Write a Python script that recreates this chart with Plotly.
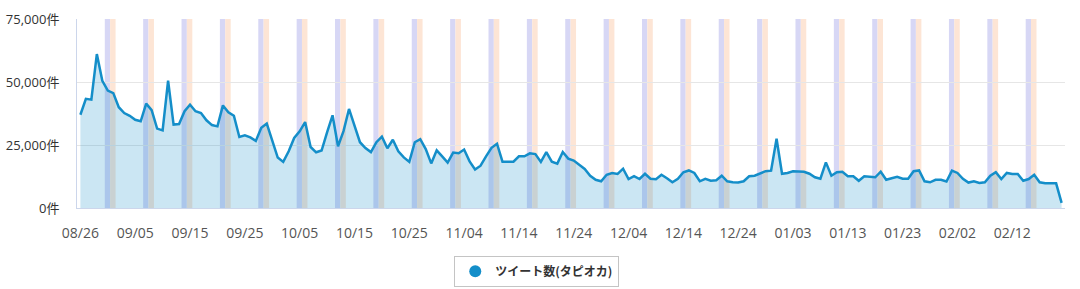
import pandas as pd
import plotly.graph_objects as go

start_date = "2019-08-26"
series_name = "ツイート数(タピオカ)"
tweets = [
    37000, 43300, 43000, 61100, 50500, 46600, 45600, 40000, 37700, 36600,
    35000, 34400, 41400, 38800, 31500, 30800, 50500, 33100, 33300, 38400,
    41000, 38400, 37700, 34800, 32900, 32400, 40700, 38000, 36600, 28200,
    28800, 28000, 26600, 31800, 33500, 27100, 20000, 18300, 22500, 27800,
    30400, 34100, 24200, 22100, 22800, 30000, 36800, 24500, 30500, 39300,
    33100, 26100, 23800, 22200, 26100, 28300, 23700, 27100, 22500, 20100,
    18300, 26100, 27300, 23400, 17700, 22900, 20500, 18000, 22000, 21700,
    23200, 18500, 15300, 16800, 20500, 23900, 25500, 18400, 18400, 18400,
    20500, 20500, 21700, 21400, 18300, 22200, 18400, 17600, 22200, 19600,
    18800, 17200, 15500, 12800, 11200, 10600, 13200, 13900, 13500, 15600,
    11500, 12600, 11500, 13600, 11600, 11400, 13200, 11800, 10200, 11600,
    14200, 14900, 13900, 10600, 11600, 10800, 11000, 12800, 10600, 10200,
    10100, 10600, 12600, 12800, 13600, 14600, 14800, 27500, 13600, 13900,
    14600, 14600, 14400, 13600, 12200, 11600, 18100, 12800, 14200, 14400,
    12600, 12600, 10800, 12600, 12300, 12200, 14400, 11200, 11800, 12400,
    11600, 11600, 14600, 14900, 10600, 10200, 11200, 11200, 10500, 14800,
    13900, 11600, 10100, 10600, 9900, 10200, 12800, 14200, 11500, 13900,
    13500, 13500, 10800, 11500, 13200, 10200, 9800, 9800, 9800, 2000,
]
y_ticks = [0, 25000, 50000, 75000]
y_ticklabels = ["0件", "25,000件", "50,000件", "75,000件"]

dates = pd.date_range(start_date, periods=len(tweets), freq="D")

LINE = "rgb(20,142,201)"
FILL = "rgba(20,142,201,0.22)"
SAT = "#d7d7f5"
SUN = "#fde5d5"
day = pd.Timedelta(days=1)

fig = go.Figure()

shapes = []
for d in dates:
    if d.weekday() == 5:
        shapes.append(dict(type="rect", xref="x", yref="paper",
                           x0=d - 0.55 * day, x1=d + 0.42 * day, y0=0, y1=1,
                           fillcolor=SAT, line_width=0, layer="below"))
    elif d.weekday() == 6:
        shapes.append(dict(type="rect", xref="x", yref="paper",
                           x0=d - 0.58 * day, x1=d + 0.42 * day, y0=0, y1=1,
                           fillcolor=SUN, line_width=0, layer="below"))

fig.add_trace(go.Scatter(
    x=dates, y=tweets, mode="lines", fill="tozeroy", fillcolor=FILL,
    line=dict(color=LINE, width=2.5), showlegend=False, name=series_name))
fig.add_trace(go.Scatter(
    x=[None], y=[None], mode="markers", name=series_name,
    marker=dict(color=LINE, size=12)))

fig.update_layout(
    width=1080, height=289,
    margin=dict(l=77, r=15, t=19, b=81),
    paper_bgcolor="white", plot_bgcolor="white",
    font=dict(family="Open Sans, Noto Sans CJK JP", size=14, color="#333"),
    shapes=shapes,
    showlegend=True,
    legend=dict(orientation="h", xref="container", yref="container",
                x=0.497, xanchor="center", y=0.115, yanchor="top",
                bordercolor="#c4c4c4", borderwidth=1,
                font=dict(family="Noto Sans CJK JP", size=12, color="#333", weight="bold"),
                itemwidth=30),
    xaxis=dict(
        type="date", automargin=False,
        range=[dates[0] - 0.62 * day, dates[-1] + 0.62 * day],
        tick0=start_date, dtick=10 * 86400000, tickformat="%m/%d",
        showgrid=False, showline=True, linecolor="#ccd6eb", linewidth=1,
        ticks="", ticklabelstandoff=12,
        tickfont=dict(color="#555", size=14),
    ),
    yaxis=dict(
        range=[0, 75000], tickmode="array", tickvals=y_ticks, ticktext=y_ticklabels,
        automargin=False,
        showgrid=True, gridcolor="#e6e6e6", gridwidth=1,
        zeroline=False, showline=True, linecolor="#ccd6eb", linewidth=1,
        ticks="", ticklabelstandoff=14,
        tickfont=dict(family="Open Sans, Noto Sans CJK JP", color="#333", size=13),
    ),
)

fig.write_html("out.html")
